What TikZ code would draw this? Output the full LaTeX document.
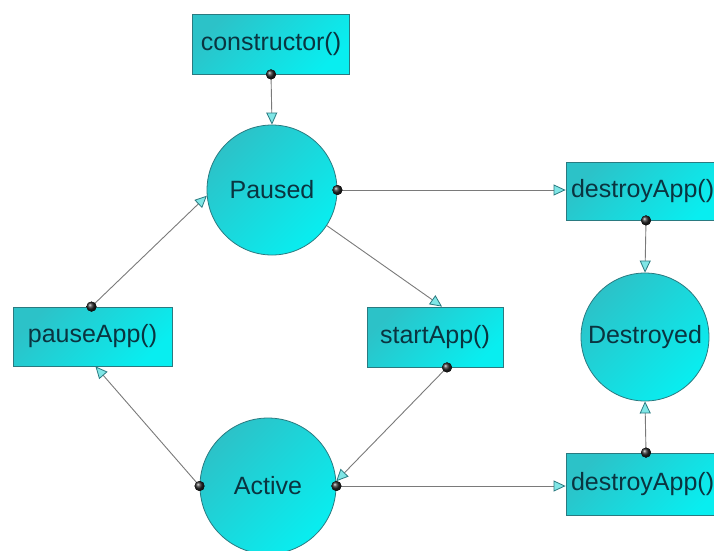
\documentclass[tikz,border=0pt]{standalone}
\usepackage{fontspec}
\setmainfont{Liberation Sans}
\usetikzlibrary{arrows.meta,calc}
\definecolor{rim}{HTML}{2A7A80}
\definecolor{ink}{HTML}{0A3440}
\definecolor{wire}{HTML}{7A7A7A}
\definecolor{cyanA}{HTML}{2CC2C8}
\definecolor{cyanB}{HTML}{08EEF0}
\definecolor{tipfill}{HTML}{7FE6E6}
\tikzset{
  shadefill/.style={draw=rim, line width=0.8pt, shading=axis,
    left color=cyanA, right color=cyanB, shading angle=45},
  methodbox/.style={shadefill, rectangle, inner sep=0pt,
    font=\fontsize{25}{30}\selectfont, text=ink},
  statecircle/.style={shadefill, circle, inner sep=0pt,
    font=\fontsize{25}{30}\selectfont, text=ink},
  conn/.style={draw=wire, line width=0.9pt,
    -{Triangle[length=12pt,width=11pt,fill=tipfill,color=rim,line width=0.8pt]}},
  knob/.style={ball color=black!85, draw=none}
}
\begin{document}
\begin{tikzpicture}[x=1pt,y=-1pt]
  \useasboundingbox (0,0) rectangle (714,550);
  \clip (0,0) rectangle (714,550);

  % method boxes
  \node[methodbox, minimum width=157pt, minimum height=60pt] (ctor) at (271,44) {constructor()};
  \node[methodbox, minimum width=159pt, minimum height=59pt] (pause) at (92.5,336.5) {pauseApp()};
  \node[methodbox, minimum width=136pt, minimum height=60pt] (start) at (435,337) {startApp()};
  \node[methodbox, minimum width=160pt, minimum height=58pt, text width=150pt, align=left] (dtop) at (646,191) {destroyApp()};
  \node[methodbox, minimum width=160pt, minimum height=62pt, text width=150pt, align=left] (dbot) at (646,484) {destroyApp()};

  % states
  \node[statecircle, minimum size=130pt] (paused) at (272,190) {Paused};
  \node[statecircle, minimum size=136pt] (active) at (268,486) {Active};
  \node[statecircle, minimum size=128pt] (destroyed) at (645,337) {Destroyed};

  % transitions
  \draw[conn] (ctor.south) -- (paused.north);
  \draw[conn] (paused.east) -- (paused.east -| dtop.west);
  \draw[conn] (paused.-33) -- ($(start.north)+(7,0)$);
  \draw[conn] ($(start.south)+(12,0)$) -- (active.4);
  \draw[conn] (active.east) -- (active.east -| dbot.west);
  \draw[conn] (active.west) -- ($(pause.south)+(3,0)$);
  \draw[conn] ($(pause.north)+(-1,0)$) -- (paused.185);
  \draw[conn] (dtop.south) -- (destroyed.north);
  \draw[conn] (dbot.north) -- (destroyed.south);

  % connector origins
  \fill[knob] (ctor.south) circle (5pt);
  \fill[knob] (paused.east) circle (5pt);
  \fill[knob] ($(start.south)+(12,0)$) circle (5pt);
  \fill[knob] (active.east) circle (5pt);
  \fill[knob] (active.west) circle (5pt);
  \fill[knob] ($(pause.north)+(-1,0)$) circle (5pt);
  \fill[knob] (dtop.south) circle (5pt);
  \fill[knob] (dbot.north) circle (5pt);
\end{tikzpicture}
\end{document}
